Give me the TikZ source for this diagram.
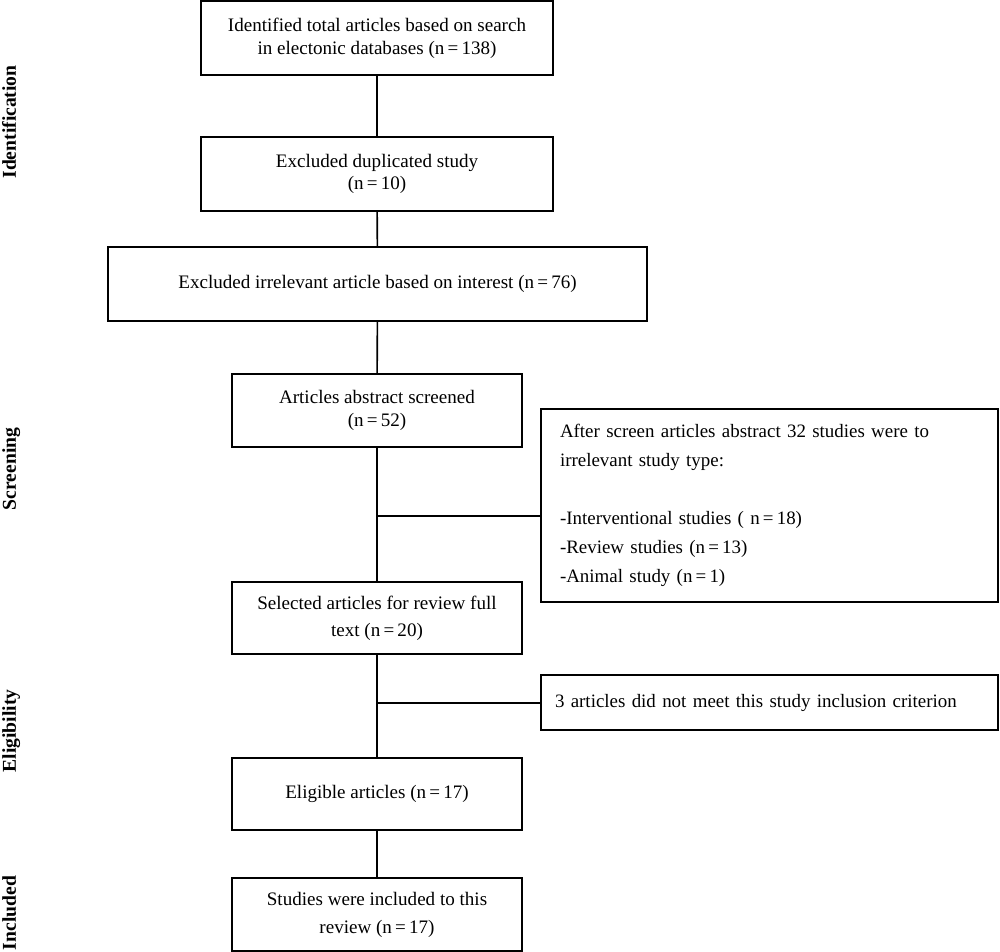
\documentclass[tikz,border=0pt]{standalone}
\usepackage{fontspec}
\setmainfont{Liberation Serif}
\begin{document}
\begin{tikzpicture}[x=0.75pt,y=-0.75pt,
  box/.style={draw=black, line width=1.5pt, fill=white, align=center, inner sep=2pt,
    font=\fontsize{14.3}{17}\selectfont},
  sidebox/.style={draw=black, line width=1.5pt, fill=white, align=left,
    font=\fontsize{14.2}{21.75}\selectfont},
  conn/.style={draw=black, line width=1.2pt},
  phase/.style={rotate=90, anchor=base, inner sep=0pt, font=\fontsize{14.7}{17}\selectfont\bfseries}
]
\useasboundingbox (0,0) rectangle (1000,952);

% phase labels
\node[phase] (pid) at (16,122) {Identification};
\node[phase] (psc) at (16,469) {Screening};
\node[phase] (pel) at (16,731) {Eligibility};
\node[phase] (pin) at (16,913) {Included};

% main boxes
\node[box, minimum width=264pt, minimum height=55.5pt] (b1) at (377,38)
  {Identified total articles based on search\\in electonic databases (n\,=\,138)};
\node[box, minimum width=264pt, minimum height=55.5pt] (b2) at (377,174)
  {Excluded duplicated study\\(n\,=\,10)};
\node[box, minimum width=404.25pt, minimum height=55.5pt] (b3) at (377.5,284)
  {Excluded irrelevant article based on interest (n\,=\,76)};
\node[box, minimum width=217.5pt, minimum height=54.75pt] (b4) at (377,410.5)
  {Articles abstract screened\\(n\,=\,52)};
\node[box, minimum width=217.5pt, minimum height=54pt, font=\fontsize{14.3}{20}\selectfont] (b6) at (377,618)
  {Selected articles for review full\\text (n\,=\,20)};
\node[box, minimum width=217.5pt, minimum height=54pt] (b8) at (377,794)
  {Eligible articles (n\,=\,17)};
\node[box, minimum width=217.5pt, minimum height=54.75pt, font=\fontsize{14.3}{21}\selectfont] (b9) at (377,914.5)
  {Studies were included to this\\review (n\,=\,17)};

% side boxes
\node[sidebox, inner xsep=14.25pt, text width=314.25pt, minimum height=144.75pt] (b5) at (769.5,505.5)
  {After screen articles abstract 32 studies were to\\
   irrelevant study type:\\[21.75pt]
   -Interventional studies ( n\,=\,18)\\
   -Review studies (n\,=\,13)\\
   -Animal study (n\,=\,1)};
\node[sidebox, inner xsep=10.5pt, text width=321.75pt, minimum height=41.25pt] (b7) at (769.5,702.5)
  {3 articles did not meet this study inclusion criterion};

% junction points
\coordinate (j1) at (377,516);
\coordinate (j2) at (377,703);

% connectors
\draw[conn] (b1) -- (b2);
\draw[conn] (b2) -- (b3);
\draw[conn] (b3) -- (b4);
\draw[conn] (b4) -- (b6);
\draw[conn] (j1) -- (j1 -| b5.west);
\draw[conn] (b6) -- (b8);
\draw[conn] (j2) -- (j2 -| b7.west);
\draw[conn] (b8) -- (b9);
\end{tikzpicture}
\end{document}
